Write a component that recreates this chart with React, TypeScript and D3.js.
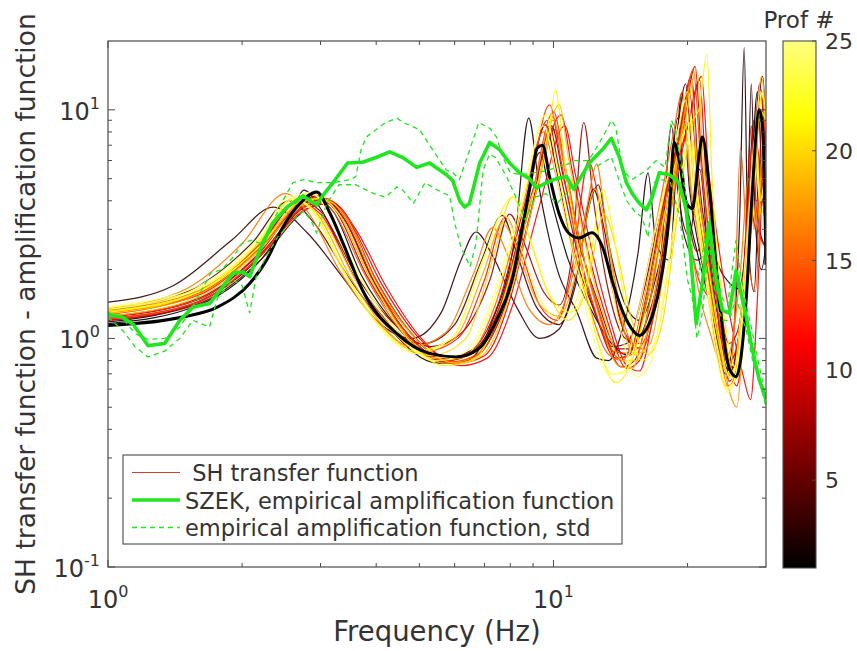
import React from 'react';
import * as d3 from 'd3';

const W = 857;
const H = 651;
const PL = 108, PR = 766, PT = 41, PB = 567;

// ---------- tick data ----------
const xMajorTicks = [1, 10];
const xMinorTicks = [2, 3, 4, 5, 6, 7, 8, 9, 20];
const xTickExps = ['0', '1'];
const yMajorTicks = [0.1, 1, 10];
const yMinorTicks = [0.2, 0.3, 0.4, 0.5, 0.6, 0.7, 0.8, 0.9, 2, 3, 4, 5, 6, 7, 8, 9];
const yTickExps = ['-1', '0', '1'];
const cbTicks = [5, 10, 15, 20, 25];
const cbRange = [1, 25];

// ---------- empirical amplification (green) ----------
const empirical = [[1.0,1.27],[1.075,1.24],[1.14,1.15],[1.23,0.93],[1.34,0.95],[1.45,1.2],[1.55,1.37],[1.69,1.42],[1.76,1.57],[1.91,1.93],[2.01,1.95],[2.08,1.86],[2.19,2.43],[2.34,3.19],[2.52,3.75],[2.74,4.2],[2.94,3.83],[3.03,4.2],[3.2,4.8],[3.45,5.85],[3.73,5.9],[4.01,6.2],[4.29,6.55],[4.59,6.18],[4.93,5.6],[5.27,5.85],[5.75,5.2],[5.94,4.9],[6.16,4.0],[6.32,3.75],[6.48,3.9],[6.83,5.85],[7.19,7.2],[7.57,6.7],[7.97,5.85],[8.39,5.3],[8.83,5.0],[9.16,4.55],[9.65,4.8],[10.16,5.0],[10.7,5.1],[11.1,4.5],[12.04,5.85],[12.88,6.7],[13.49,7.5],[14.06,6.2],[14.58,4.8],[15.03,4.3],[15.59,3.9],[16.16,3.65],[16.67,4.15],[17.28,5.3],[18.2,5.2],[19.16,4.8],[19.87,3.65],[20.38,2.14],[20.92,1.16],[21.58,1.74],[22.38,3.2],[23.2,1.79],[23.93,1.33],[24.8,1.29],[25.7,1.98],[27.1,1.24],[27.9,0.91],[28.97,0.66],[30.0,0.54]];

const stdUpper = [[1.0,1.3],[1.08,1.22],[1.15,1.05],[1.23,0.99],[1.34,1.0],[1.45,1.12],[1.55,1.38],[1.62,1.62],[1.7,1.93],[1.8,2.0],[1.91,2.27],[2.0,2.6],[2.1,2.69],[2.2,2.6],[2.34,3.2],[2.45,3.9],[2.6,4.8],[2.75,4.95],[2.94,4.8],[3.2,4.8],[3.5,4.95],[3.6,5.1],[3.7,6.7],[3.8,7.6],[4.0,8.2],[4.2,8.8],[4.45,9.2],[4.6,8.8],[5.0,8.2],[5.3,6.9],[5.75,5.45],[5.95,5.3],[6.15,4.95],[6.4,6.2],[6.8,8.8],[7.2,8.3],[7.45,7.6],[7.7,6.2],[8.0,5.3],[8.5,5.2],[9.0,5.3],[9.6,5.4],[10.2,5.6],[10.8,5.8],[11.1,6.0],[12.0,6.0],[12.9,7.6],[13.5,9.0],[13.8,8.4],[14.3,5.45],[15.0,4.95],[16.2,5.45],[17.0,6.0],[17.8,5.6],[18.4,9.0],[18.8,8.2],[19.4,5.5],[20.0,3.8],[20.6,2.2],[21.2,1.9],[21.8,2.6],[22.4,3.4],[23.0,2.2],[23.9,1.5],[24.6,1.4],[25.7,2.7],[26.3,1.9],[27.1,1.4],[28.0,1.05],[29.0,0.75],[30.0,0.55]];

const stdLower = [[1.0,1.24],[1.08,1.08],[1.15,0.92],[1.23,0.83],[1.34,0.88],[1.45,1.0],[1.55,1.2],[1.69,1.12],[1.76,1.5],[1.91,1.8],[2.0,1.7],[2.08,1.29],[2.15,1.86],[2.27,2.3],[2.4,2.77],[2.6,3.3],[2.75,3.6],[2.85,3.3],[2.94,2.9],[3.1,3.9],[3.3,4.7],[3.6,4.7],[3.95,4.3],[4.2,4.15],[4.45,4.6],[4.59,4.45],[4.85,3.9],[5.15,4.8],[5.5,4.45],[5.85,4.2],[6.0,3.2],[6.2,2.5],[6.5,2.06],[6.7,2.6],[6.95,5.45],[7.19,6.4],[7.4,6.2],[7.85,5.1],[8.3,4.0],[8.65,3.29],[9.1,4.15],[9.6,4.3],[10.2,3.9],[11.0,4.6],[12.0,5.45],[12.9,5.85],[13.5,6.2],[14.0,5.0],[14.6,4.0],[15.3,3.54],[15.8,3.4],[16.3,2.77],[16.8,4.8],[17.3,5.0],[18.3,4.8],[19.2,3.4],[20.0,1.8],[20.5,1.5],[21.0,1.0],[21.6,1.3],[22.4,2.6],[23.2,1.4],[24.0,1.2],[24.8,1.2],[25.7,1.5],[27.1,1.08],[28.0,0.8],[29.0,0.66],[30.0,0.5]];

// ---------- highlighted (thick black) transfer function ----------
const thickProfile = [[1,1.14],[1.47,1.24],[1.76,1.37],[2.08,1.74],[2.27,2.2],[2.47,3.07],[2.7,3.9],[2.94,4.37],[3.15,3.53],[3.4,2.5],[3.73,1.62],[4.45,1.05],[5.27,0.86],[6.06,0.83],[6.83,0.91],[7.45,1.2],[8.1,1.85],[8.5,3.0],[8.83,4.45],[9.2,6.8],[9.45,7.0],[9.8,5.1],[10.3,3.5],[10.8,2.9],[11.4,2.75],[12.2,2.9],[12.9,2.5],[13.6,1.74],[14.6,1.2],[15.6,1.03],[16.4,1.16],[17.3,1.67],[18.2,3.53],[18.65,7.2],[19.2,5.85],[19.9,3.9],[20.5,3.7],[21.2,6.2],[21.6,7.6],[22.4,4.45],[23.6,1.42],[24.8,0.74],[25.7,0.68],[27.1,1.51],[27.9,4.16],[29.0,10],[29.5,8.2],[30.0,2.1]];

// ---------- SH transfer functions, profiles 1..25 ----------
const prof01 = [[1,1.16],[1.6,1.4],[2.2,2.2],[2.6,3.4],[2.9,4.1],[3.2,3.6],[3.7,1.9],[4.5,1.1],[5.6,0.8],[6.5,0.85],[7.5,1.3],[8.5,3.0],[9.3,6.5],[9.9,4.0],[10.8,2.2],[12,1.4],[13.5,0.95],[14.5,0.85],[15.6,1.1],[17,2.2],[18.3,5],[19,9.2],[19.7,4.5],[21,2.4],[22.5,1.4],[24,0.8],[25,0.72],[26,1.0],[27.5,3],[28.7,12],[29.4,5],[30,3]];
const prof02 = [[1,1.18],[1.6,1.45],[2.2,2.3],[2.6,3.6],[2.75,4.45],[3.0,3.7],[3.5,2.0],[4.3,1.1],[5.5,0.78],[6.4,0.8],[7.3,1.2],[8.2,2.8],[8.8,9.2],[9.3,4.5],[10.2,2.0],[11.3,1.3],[12.5,0.82],[13.3,0.8],[14.3,1.1],[15.5,2.4],[16.3,5.3],[17,2.6],[18.2,2.2],[19.4,11.8],[20.2,4.5],[21.5,2.2],[23,1.1],[24.3,0.7],[25.3,1.0],[26.2,3.5],[26.8,18.7],[27.3,3],[28.2,1.6],[29.2,6],[30,4]];
const prof03 = [[1,1.44],[1.4,1.7],[1.9,2.7],[2.35,3.75],[2.8,2.9],[3.4,1.8],[4.0,1.2],[4.8,1.0],[5.6,1.3],[6.2,2.2],[6.7,2.92],[7.3,2.3],[8.3,1.35],[9.3,1.0],[10.3,1.1],[11.2,1.8],[12.2,4.2],[12.6,4.7],[13.3,2.6],[14.5,1.4],[15.6,1.2],[16.8,1.7],[18.3,4.5],[18.7,7.5],[19.5,3.0],[21,2.2],[22.5,2.4],[24,1.9],[26,1.65],[27.2,3],[27.8,13],[28.4,3.2],[29.3,2],[30,2.6]];
const prof04 = [[1,1.32],[1.6,1.7],[2.1,2.6],[2.55,4.0],[2.9,3.2],[3.5,1.8],[4.3,1.1],[5.1,0.95],[6.0,1.15],[6.9,2.2],[7.67,3.45],[8.3,2.3],[9.2,1.35],[10.3,1.15],[11.2,1.7],[12.3,4.5],[13.0,3.0],[14.0,1.3],[15.0,0.95],[16.2,1.2],[17.5,2.5],[18.4,8.5],[19.0,4.5],[20.2,2.8],[21.3,5.5],[22.2,2.5],[23.5,1.2],[24.8,0.8],[25.8,0.9],[27,2.2],[28.2,9],[29,3],[30,2.5]];
const prof05 = [[1,1.22],[1.6,1.45],[2.2,2.3],[2.7,3.7],[3.05,4.05],[3.4,3.3],[3.9,1.85],[4.7,1.1],[5.8,0.8],[6.6,0.88],[7.6,1.4],[8.6,3.5],[9.6,8.6],[10.2,5.2],[11,2.6],[12.2,1.4],[13.6,0.92],[14.6,0.95],[15.8,1.5],[17.2,3.2],[18.6,6],[19.8,13],[20.6,5],[21.8,2.5],[23.2,1.2],[24.5,0.74],[25.5,0.75],[26.7,1.5],[28,5],[29.5,14],[30,8]];
const prof06 = [[1,1.2],[1.6,1.42],[2.2,2.2],[2.75,3.6],[3.1,3.95],[3.45,3.3],[4.0,1.8],[4.8,1.05],[5.9,0.78],[6.8,0.86],[7.8,1.4],[8.9,3.6],[9.9,8.5],[10.5,5.2],[11.3,2.8],[12.5,1.5],[14,0.9],[15,0.9],[16.2,1.6],[17.5,3.5],[19.0,7],[20.4,14],[21.2,5],[22.5,2.2],[23.8,1.0],[24.8,0.65],[25.7,0.72],[26.8,1.8],[28.2,6.5],[29,13],[30,6]];
const prof07 = [[1,1.28],[1.6,1.6],[2.2,2.6],[2.7,4.0],[3.0,3.6],[3.6,1.9],[4.4,1.15],[5.3,0.92],[6.2,1.05],[7.2,1.8],[7.97,3.5],[8.6,2.6],[9.5,1.6],[10.3,1.4],[11.0,2.3],[11.7,8.8],[12.3,4],[13.3,1.6],[14.5,1.0],[15.8,0.95],[17.0,1.6],[18.3,4],[19.2,6.5],[20.0,3.5],[21.0,2.4],[22.0,2.8],[23.3,1.5],[24.8,0.95],[26.0,1.1],[27.3,2.5],[28.6,7],[29.5,4],[30,3]];
const prof08 = [[1,1.25],[1.6,1.5],[2.2,2.4],[2.7,3.9],[2.95,4.2],[3.25,3.6],[3.8,1.9],[4.6,1.1],[5.6,0.82],[6.5,0.88],[7.5,1.4],[8.6,3.8],[9.7,9.0],[10.3,5.5],[11.2,2.6],[12.4,1.3],[13.8,0.82],[14.8,0.85],[16.0,1.5],[17.4,3.5],[19,7],[20.2,12],[21,5],[22.2,2.3],[23.5,1.0],[24.8,0.7],[25.9,0.9],[27,2.8],[27.8,8.5],[28.5,4],[29.5,5],[30,7]];
const prof09 = [[1,1.3],[1.6,1.55],[2.2,2.5],[2.75,3.85],[3.05,4.0],[3.4,3.3],[4.0,1.7],[4.8,1.0],[5.8,0.78],[6.8,0.85],[7.8,1.5],[9.0,4.5],[10.1,8.2],[10.7,5],[11.6,2.4],[12.8,1.2],[14.2,0.75],[15.2,0.8],[16.6,1.6],[18.0,4.5],[19.4,7.5],[20.8,15.5],[21.5,6],[22.8,2],[24.0,0.9],[25.2,0.75],[26.5,1.4],[27.5,4],[28.5,3],[29.6,11],[30,9]];
const prof10 = [[1,1.24],[1.6,1.48],[2.2,2.35],[2.8,3.8],[3.15,4.0],[3.5,3.2],[4.1,1.75],[5.0,1.0],[6.1,0.78],[7.0,0.84],[8.0,1.5],[9.1,4.2],[10.4,9.5],[11.0,5.5],[11.9,2.5],[13.2,1.2],[14.6,0.74],[15.6,0.8],[17,1.7],[18.4,4.5],[20.0,8.5],[21.3,13.5],[22.0,5],[23.3,2],[24.6,0.85],[25.8,0.62],[26.9,1.2],[28.0,4],[29.0,9],[30,8]];
const prof11 = [[1,1.2],[1.6,1.44],[2.2,2.3],[2.8,3.7],[3.2,3.9],[3.6,3.0],[4.2,1.7],[5.1,0.98],[6.2,0.76],[7.1,0.82],[8.1,1.4],[9.3,3.8],[10.6,8.5],[11.2,5.2],[12.1,2.6],[13.4,1.2],[14.6,0.76],[15.6,0.72],[16.8,1.3],[18.5,4],[20.3,9.5],[21.5,14],[22.2,6],[23.5,2.5],[25,1.2],[26.6,0.7],[27.7,0.54],[28.7,1.5],[29.6,6],[30,9]];
const prof12 = [[1,1.27],[1.6,1.6],[2.2,2.6],[2.65,3.95],[3.0,3.5],[3.6,1.8],[4.4,1.1],[5.2,0.88],[6.1,1.0],[7.0,1.8],[7.8,3.4],[8.4,2.5],[9.3,1.4],[10.2,1.2],[11.0,2.0],[12.0,6],[12.5,4.5],[13.3,2],[14.5,1.05],[15.8,0.9],[17.0,1.4],[18.2,3.5],[19.0,6.5],[19.8,3.5],[21.2,1.8],[22.3,1.5],[23.5,1.1],[24.8,0.78],[26.0,1.0],[27.3,3.5],[27.9,7],[28.8,3],[30,2.5]];
const prof13 = [[1,1.3],[1.6,1.58],[2.2,2.5],[2.7,3.9],[2.98,4.15],[3.3,3.5],[3.9,1.8],[4.7,1.05],[5.7,0.8],[6.6,0.86],[7.6,1.4],[8.7,3.8],[9.8,10.5],[10.4,6],[11.2,2.8],[12.3,1.4],[13.6,0.88],[14.7,0.86],[16.0,1.5],[17.4,3.5],[18.8,7],[20.0,11],[20.7,5],[22.0,2.2],[23.4,1.0],[24.6,0.62],[25.6,0.68],[26.7,1.5],[28,5],[29.2,12],[30,7]];
const prof14 = [[1,1.22],[1.6,1.45],[2.2,2.3],[2.75,3.8],[3.08,4.1],[3.4,3.4],[4.0,1.8],[4.8,1.05],[5.9,0.79],[6.8,0.86],[7.8,1.45],[8.9,4],[10.0,9.8],[10.6,5.8],[11.5,2.6],[12.7,1.3],[14.0,0.82],[15.0,0.85],[16.3,1.6],[17.8,4],[19.3,8],[20.6,15],[21.4,6],[22.6,2.3],[24,0.95],[25.3,0.7],[26.5,1.2],[27.6,3.5],[28.5,8],[29.2,4],[30,6]];
const prof15 = [[1,1.33],[1.6,1.62],[2.2,2.6],[2.7,4.0],[2.9,4.25],[3.2,3.6],[3.8,1.85],[4.6,1.05],[5.5,0.8],[6.4,0.84],[7.4,1.4],[8.5,3.7],[9.5,8.0],[10.1,5.3],[10.9,2.7],[12.0,1.4],[13.3,0.85],[14.3,0.8],[15.6,1.4],[17.0,3.2],[18.5,7.5],[19.5,12],[20.2,5],[21.5,2.5],[23,1.0],[24.3,0.62],[25.3,0.9],[26.3,6.8],[27.2,2.5],[28.4,1.6],[29.6,6],[30,5]];
const prof16 = [[1,1.35],[1.5,1.65],[2.0,2.6],[2.5,4.3],[2.8,3.6],[3.3,2.0],[4.0,1.2],[4.8,0.92],[5.7,1.05],[6.6,1.9],[7.3,3.05],[7.9,2.3],[8.8,1.35],[9.8,1.15],[10.8,1.6],[11.9,3.8],[12.5,5.8],[13.1,3.2],[14.2,1.3],[15.4,0.9],[16.6,1.2],[18.0,2.8],[19.2,5.5],[20,3.2],[21.2,1.6],[22.5,1.05],[23.8,0.78],[25,0.9],[26.3,2],[27.4,5],[28.2,3],[29.3,5],[30,4]];
const prof17 = [[1,1.28],[1.6,1.56],[2.2,2.5],[2.7,3.9],[3.0,4.1],[3.3,3.5],[3.9,1.8],[4.7,1.02],[5.7,0.78],[6.6,0.82],[7.6,1.35],[8.8,3.6],[10.0,9.0],[10.6,5.5],[11.4,2.8],[12.6,1.3],[14.0,0.76],[15.0,0.74],[16.3,1.3],[17.8,3.5],[19.2,7],[20.4,13],[21.1,5],[22.4,2],[23.8,0.9],[25.0,0.56],[25.8,0.5],[26.8,1.2],[28.0,4],[29.0,9],[30,10]];
const prof18 = [[1,1.3],[1.6,1.62],[2.2,2.7],[2.6,4.1],[2.95,3.5],[3.5,1.85],[4.2,1.1],[5.0,0.86],[6.0,1.0],[7.0,2.0],[7.67,3.2],[8.2,2.6],[9.2,1.45],[10.3,1.25],[11.3,2.0],[12.4,4.5],[12.9,3.6],[13.9,1.5],[15.2,0.85],[16.5,0.95],[17.8,2.2],[19.0,6],[19.7,9],[20.4,4.5],[21.6,2.2],[23.0,1.2],[24.4,0.72],[25.5,0.68],[26.6,1.5],[27.8,4.5],[28.6,3],[29.6,7],[30,6]];
const prof19 = [[1,1.25],[1.6,1.52],[2.2,2.45],[2.75,3.85],[3.1,4.0],[3.45,3.3],[4.0,1.75],[4.9,1.0],[6.0,0.78],[6.9,0.84],[7.9,1.45],[9.1,4.2],[10.3,10.5],[10.8,6.2],[11.6,3],[12.9,1.3],[14.3,0.8],[15.4,0.8],[16.8,1.5],[18.3,4.2],[19.7,8.5],[21.0,15],[21.7,6],[23,2.2],[24.4,0.95],[25.6,0.66],[26.8,1.2],[28,4],[29.3,14],[30,9]];
const prof20 = [[1,1.28],[1.6,1.6],[2.2,2.65],[2.65,4.0],[3.0,3.4],[3.6,1.8],[4.4,1.05],[5.3,0.84],[6.3,0.98],[7.3,2.2],[8.1,4.15],[8.7,3.0],[9.7,1.6],[10.8,1.2],[11.8,1.6],[13.0,3.5],[13.8,2.5],[15.0,1.2],[16.3,0.85],[17.6,1.2],[19.0,3.5],[20.2,7],[20.9,4],[22,2],[23.4,1.0],[24.7,0.7],[25.9,0.8],[27.2,2.2],[28.3,6],[29.3,3.5],[30,4.5]];
const prof21 = [[1,1.32],[1.6,1.6],[2.2,2.55],[2.7,3.95],[3.0,4.1],[3.3,3.5],[3.9,1.8],[4.7,1.0],[5.7,0.76],[6.6,0.8],[7.6,1.35],[8.8,3.8],[9.7,7.0],[10.1,12.2],[10.6,5.8],[11.4,2.4],[12.6,0.95],[13.8,0.64],[14.8,0.75],[16.2,1.4],[17.9,3.8],[19.6,8],[21.2,10],[22.1,17.5],[22.7,5],[23.8,1.6],[25,0.85],[26.1,0.7],[27.3,1.8],[28.5,7],[29.5,12],[30,8]];
const prof22 = [[1,1.3],[1.6,1.6],[2.2,2.7],[2.6,4.1],[2.9,3.6],[3.4,1.95],[4.1,1.12],[4.9,0.88],[5.9,1.0],[7.0,2.3],[8.1,4.15],[8.8,2.8],[9.8,1.55],[10.9,1.3],[11.9,1.8],[12.9,4.5],[13.5,3.2],[14.5,1.4],[15.8,0.8],[17,1.0],[18.4,2.5],[19.6,6],[20.4,9],[21.0,4.5],[22.3,2],[23.6,1.0],[24.8,0.68],[26,0.86],[27.3,2.5],[28.4,8],[29.2,4],[30,5]];
const prof23 = [[1,1.36],[1.6,1.66],[2.2,2.7],[2.6,4.0],[2.85,4.3],[3.1,3.7],[3.6,2.0],[4.4,1.1],[5.4,0.8],[6.3,0.83],[7.3,1.4],[8.5,3.8],[9.6,9.5],[10.2,5.6],[11.0,2.6],[12.2,1.2],[13.5,0.7],[14.5,0.72],[15.9,1.4],[17.5,3.8],[19.0,8],[20.0,12],[20.7,5],[22.0,2],[23.4,0.85],[24.6,0.58],[25.7,0.7],[26.9,1.8],[28.2,6],[29.0,10],[30,9]];
const prof24 = [[1,1.34],[1.6,1.65],[2.2,2.75],[2.55,4.2],[2.9,3.5],[3.4,1.9],[4.1,1.1],[4.9,0.86],[5.9,1.0],[6.9,2.1],[7.7,3.5],[8.3,2.7],[9.3,1.5],[10.4,1.2],[11.3,1.5],[12.4,3.0],[13.1,2.3],[14.2,1.05],[15.4,0.68],[16.6,0.8],[18,2],[19.5,5.5],[20.2,7.5],[20.8,4],[22,1.8],[23.4,0.9],[24.7,0.6],[25.9,0.75],[27.2,2.2],[28.3,7],[29.1,4],[30,6]];
const prof25 = [[1,1.38],[1.6,1.7],[2.2,2.8],[2.6,4.1],[2.85,4.35],[3.1,3.7],[3.6,2.0],[4.4,1.1],[5.3,0.82],[6.2,0.85],[7.2,1.4],[8.4,3.8],[9.5,8.5],[10.1,5.4],[10.9,2.6],[12.0,1.2],[13.3,0.7],[14.2,0.7],[15.5,1.3],[17.2,3.5],[18.8,7],[19.8,11],[20.5,5],[21.8,2],[23.2,0.85],[24.4,0.6],[25.5,0.72],[26.7,1.8],[28.0,5.5],[29.1,12],[30,10]];

const profiles = [prof01, prof02, prof03, prof04, prof05, prof06, prof07, prof08, prof09, prof10, prof11, prof12, prof13, prof14, prof15, prof16, prof17, prof18, prof19, prof20, prof21, prof22, prof23, prof24, prof25];

const legendLabels = [' SH transfer function', 'SZEK, empirical amplification function', 'empirical amplification function, std'];

// truncated "hot" colormap
function hotColor(p: number): string {
  const t = (p - cbRange[0]) / (cbRange[1] - cbRange[0]);
  const s = Math.max(0, Math.min(1, t)) * 0.875;
  const r = Math.min(1, s / 0.375);
  const g = Math.max(0, Math.min(1, (s - 0.375) / 0.375));
  const b = Math.max(0, Math.min(1, (s - 0.75) / 0.25));
  return d3.rgb(r * 255, g * 255, b * 255).formatHex();
}

const FONT = 'DejaVu Sans, sans-serif';
const GREEN = '#1fe61f';

export default function App() {
  const x = d3.scaleLog().domain([1, 30]).range([PL, PR]);
  const y = d3.scaleLog().domain([0.1, 20]).range([PB, PT]);
  const smooth = d3.line<number[]>().x(d => x(d[0])).y(d => y(d[1])).curve(d3.curveMonotoneX);
  const straight = d3.line<number[]>().x(d => x(d[0])).y(d => y(d[1]));

  const cbX0 = 783, cbX1 = 816;
  const cb = d3.scaleLinear().domain(cbRange).range([PB + 1, PT]);
  const gradStops = d3.range(0, 49).map(i => {
    const p = cbRange[0] + (i / 48) * (cbRange[1] - cbRange[0]);
    return { offset: i / 48, color: hotColor(p) };
  });

  const axisColor = '#4a4a4a';
  const textColor = '#333333';

  return (
    <svg width={W} height={H} style={{ position: 'absolute', left: 0, top: 0, background: '#fff' }} fontFamily={FONT}>
      <defs>
        <clipPath id="plotclip">
          <rect x={PL} y={PT} width={PR - PL} height={PB - PT} />
        </clipPath>
        <linearGradient id="cbgrad" x1="0" y1="1" x2="0" y2="0">
          {gradStops.map((s, i) => (
            <stop key={i} offset={s.offset} stopColor={s.color} />
          ))}
        </linearGradient>
      </defs>
      <rect x={0} y={0} width={W} height={H} fill="#fff" />

      <g clipPath="url(#plotclip)">
        {profiles.map((pts, i) => (
          <path key={i} d={smooth(pts) || ''} fill="none" stroke={hotColor(i + 1)} strokeWidth={1.2} strokeOpacity={0.9} />
        ))}
        <path d={smooth(thickProfile) || ''} fill="none" stroke="#000" strokeWidth={3} />
        <path d={straight(stdUpper) || ''} fill="none" stroke={GREEN} strokeWidth={1.3} strokeDasharray="5,4" />
        <path d={straight(stdLower) || ''} fill="none" stroke={GREEN} strokeWidth={1.3} strokeDasharray="5,4" />
        <path d={straight(empirical) || ''} fill="none" stroke={GREEN} strokeWidth={3.6} strokeLinejoin="round" />
      </g>

      {/* axes box */}
      <rect x={PL} y={PT} width={PR - PL} height={PB - PT} fill="none" stroke={axisColor} strokeWidth={1.2} />
      {xMajorTicks.map((v, i) => (
        <g key={'xM' + i}>
          <line x1={x(v)} x2={x(v)} y1={PB} y2={PB - 7} stroke={axisColor} />
          <line x1={x(v)} x2={x(v)} y1={PT} y2={PT + 7} stroke={axisColor} />
        </g>
      ))}
      {xMinorTicks.map((v, i) => (
        <g key={'xm' + i}>
          <line x1={x(v)} x2={x(v)} y1={PB} y2={PB - 4} stroke={axisColor} />
          <line x1={x(v)} x2={x(v)} y1={PT} y2={PT + 4} stroke={axisColor} />
        </g>
      ))}
      {yMajorTicks.map((v, i) => (
        <g key={'yM' + i}>
          <line x1={PL} x2={PL + 7} y1={y(v)} y2={y(v)} stroke={axisColor} />
          <line x1={PR} x2={PR - 7} y1={y(v)} y2={y(v)} stroke={axisColor} />
        </g>
      ))}
      {yMinorTicks.map((v, i) => (
        <g key={'ym' + i}>
          <line x1={PL} x2={PL + 4} y1={y(v)} y2={y(v)} stroke={axisColor} />
          <line x1={PR} x2={PR - 4} y1={y(v)} y2={y(v)} stroke={axisColor} />
        </g>
      ))}

      {/* tick labels */}
      {xMajorTicks.map((v, i) => (
        <text key={'xl' + i} x={x(v)} y={608} textAnchor="middle" fontSize={24} fill={textColor}>
          <tspan>10</tspan>
          <tspan dy={-11} fontSize={16}>{xTickExps[i]}</tspan>
        </text>
      ))}
      {yMajorTicks.map((v, i) => (
        <text key={'yl' + i} x={100} y={y(v) + 10} textAnchor="end" fontSize={24} fill={textColor}>
          <tspan>10</tspan>
          <tspan dy={-11} fontSize={16}>{yTickExps[i]}</tspan>
        </text>
      ))}

      {/* axis titles */}
      <text x={(PL + PR) / 2} y={641} textAnchor="middle" fontSize={27.5} fill={textColor}>Frequency (Hz)</text>
      <text transform={`translate(35,${(PT + PB) / 2}) rotate(-90)`} textAnchor="middle" fontSize={26.5} fill={textColor}>
        SH transfer function - amplification function
      </text>

      {/* legend */}
      <rect x={123} y={455} width={499} height={89} fill="#fff" stroke={axisColor} strokeWidth={1.1} />
      <line x1={132} x2={180} y1={472.5} y2={472.5} stroke="#e03a30" strokeWidth={1.2} />
      <line x1={132} x2={180} y1={500} y2={500} stroke={GREEN} strokeWidth={3.6} />
      <line x1={132} x2={180} y1={527.5} y2={527.5} stroke={GREEN} strokeWidth={1.3} strokeDasharray="5,4" />
      {legendLabels.map((t, i) => (
        <text key={'lg' + i} x={185} y={481 + i * 27.5} fontSize={22.5} fill={textColor} style={{ whiteSpace: 'pre' }}>{t}</text>
      ))}

      {/* colorbar */}
      <rect x={cbX0} y={PT} width={cbX1 - cbX0} height={PB + 1 - PT} fill="url(#cbgrad)" stroke={axisColor} strokeWidth={1.1} />
      {cbTicks.map((v, i) => (
        <g key={'cb' + i}>
          <line x1={cbX1} x2={cbX1 - 4} y1={cb(v)} y2={cb(v)} stroke={axisColor} />
          <text x={825} y={cb(v) + 8} fontSize={22} fill={textColor}>{v}</text>
        </g>
      ))}
      <text x={799} y={28} textAnchor="middle" fontSize={23} fill={textColor}>Prof #</text>
    </svg>
  );
}
